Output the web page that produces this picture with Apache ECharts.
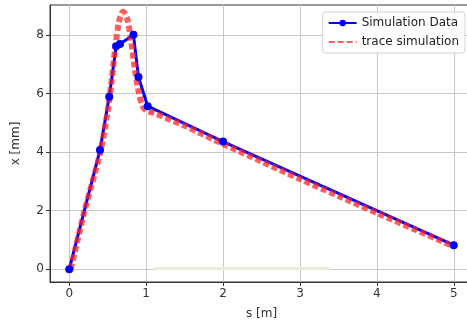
<!DOCTYPE html>
<html>
<head>
<meta charset="utf-8">
<script src="https://cdn.jsdelivr.net/npm/echarts@6/dist/echarts.min.js"></script>
<style>
  html, body { margin: 0; padding: 0; background: #fff; }
  #chart { width: 467px; height: 325px; }
</style>
</head>
<body>
<div id="chart"></div>
<script>
// blue "Simulation Data" points [s, x]
const simS = [0, 0.4, 0.52, 0.61, 0.66, 0.835, 0.9, 1.02, 2.0, 5.0];
const simX = [0, 4.07, 5.89, 7.62, 7.7, 8.01, 6.57, 5.57, 4.36, 0.82];

// red "trace simulation" samples
const traceS = [0.02, 0.2, 0.4, 0.5, 0.55, 0.6, 0.65, 0.7, 0.75, 0.8, 0.85, 0.9, 0.95, 1.0, 1.1, 1.5, 2.0, 2.5, 3.0, 3.5, 4.0, 4.5, 5.0];
const traceX = [0, 2.0, 3.95, 5.4, 6.4, 7.6, 8.5, 8.8, 8.6, 7.9, 6.9, 6.1, 5.6, 5.42, 5.34, 4.9, 4.28, 3.68, 3.08, 2.5, 1.92, 1.35, 0.78];

// faint line along zero
const baseS = [1.1, 3.4];
const baseX = [0.02, 0.02];

const xTicks = [0, 1, 2, 3, 4, 5];
const yTicks = [0, 2, 4, 6, 8];

const zip = (a, b) => a.map((v, i) => [v, b[i]]);

const chart = echarts.init(document.getElementById('chart'));
const font = 'DejaVu Sans';

chart.setOption({
  animation: false,
  textStyle: { fontFamily: font },
  grid: {
    left: 50, top: 5, width: 423, height: 277,
    outerBoundsMode: 'none', containLabel: false,
    show: true, borderColor: '#333', borderWidth: 1, backgroundColor: 'transparent'
  },
  legend: {
    right: 2, top: 12,
    orient: 'vertical',
    backgroundColor: '#fff',
    borderColor: '#d0d0d0', borderWidth: 1, borderRadius: 3,
    padding: [5, 6, 5, 5],
    itemGap: 7, itemWidth: 28, itemHeight: 8,
    textStyle: { fontFamily: font, fontSize: 12, color: '#222' },
    data: [
      'Simulation Data',
      { name: 'trace simulation', itemStyle: { opacity: 0 } }
    ]
  },
  xAxis: {
    type: 'value', min: -0.25, max: 5.25,
    name: 's [m]', nameLocation: 'middle', nameGap: 26,
    nameTextStyle: { fontFamily: font, fontSize: 12, color: '#333' },
    axisLine: { show: true, onZero: false, lineStyle: { color: '#333' } },
    axisTick: { show: true, length: 4, customValues: xTicks, lineStyle: { color: '#333' } },
    axisLabel: { customValues: xTicks, fontSize: 12, color: '#333', margin: 6 },
    splitLine: { show: true, lineStyle: { color: '#c8c8c8', width: 1 } }
  },
  yAxis: {
    type: 'value', min: -0.44, max: 9.03,
    name: 'x [mm]', nameLocation: 'middle', nameGap: 28,
    nameTextStyle: { fontFamily: font, fontSize: 12, color: '#333' },
    axisLine: { show: true, onZero: false, lineStyle: { color: '#333' } },
    axisTick: { show: true, length: 4, customValues: yTicks, lineStyle: { color: '#333' } },
    axisLabel: { customValues: yTicks, fontSize: 12, color: '#333', margin: 6 },
    splitLine: { show: true, lineStyle: { color: '#c8c8c8', width: 1 } }
  },
  series: [
    {
      name: 'faint', type: 'line', silent: true,
      data: zip(baseS, baseX), symbol: 'none',
      lineStyle: { color: '#ecebd9', width: 3 }
    },
    {
      name: 'Simulation Data', type: 'line',
      data: zip(simS, simX),
      symbol: 'circle', symbolSize: 8,
      itemStyle: { color: '#0000ff' },
      lineStyle: { color: '#0000ff', width: 3 }
    },
    {
      name: 'trace simulation', type: 'line',
      data: zip(traceS, traceX), symbol: 'none', smooth: 0.3,
      itemStyle: { color: '#ff2020' },
      lineStyle: { color: '#ff2020', width: 6, type: [6, 3], opacity: 0.72 }
    }
  ]
});
</script>
</body>
</html>
